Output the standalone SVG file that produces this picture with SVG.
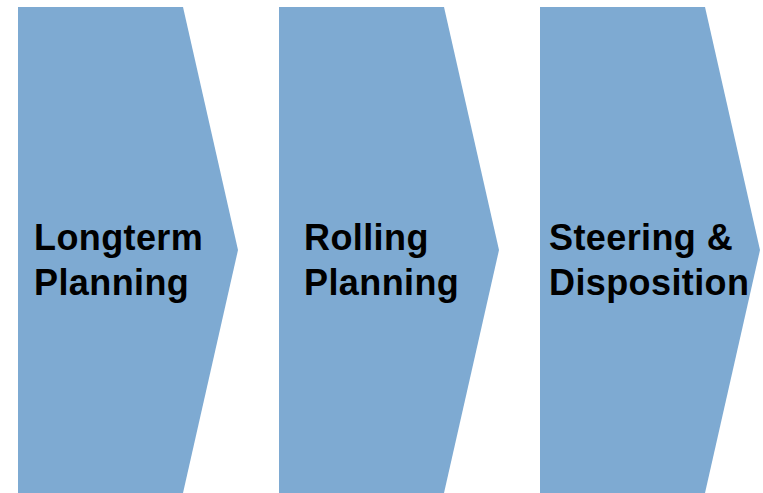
<svg xmlns="http://www.w3.org/2000/svg" width="763" height="493" viewBox="0 0 763 493">
<style>
.chev{fill:#7eaad2}
.t{font-family:"Liberation Sans",Arial,sans-serif;font-weight:bold;font-size:36px;letter-spacing:0.4px;fill:#000}
</style>
<g id="node-longterm">
<polygon class="chev" points="18,7 183,7 238,250 183,493 18,493"/>
<text class="t" x="34" y="250">Longterm</text>
<text class="t" x="34" y="295">Planning</text>
</g>
<g id="node-rolling">
<polygon class="chev" points="279,7 444,7 499,250 444,493 279,493"/>
<text class="t" x="304" y="250">Rolling</text>
<text class="t" x="304" y="295">Planning</text>
</g>
<g id="node-steering">
<polygon class="chev" points="540,7 705,7 760,250 705,493 540,493"/>
<text class="t" x="549" y="250">Steering &amp;</text>
<text class="t" x="549" y="295">Disposition</text>
</g>
<g id="connectors"></g>
</svg>
